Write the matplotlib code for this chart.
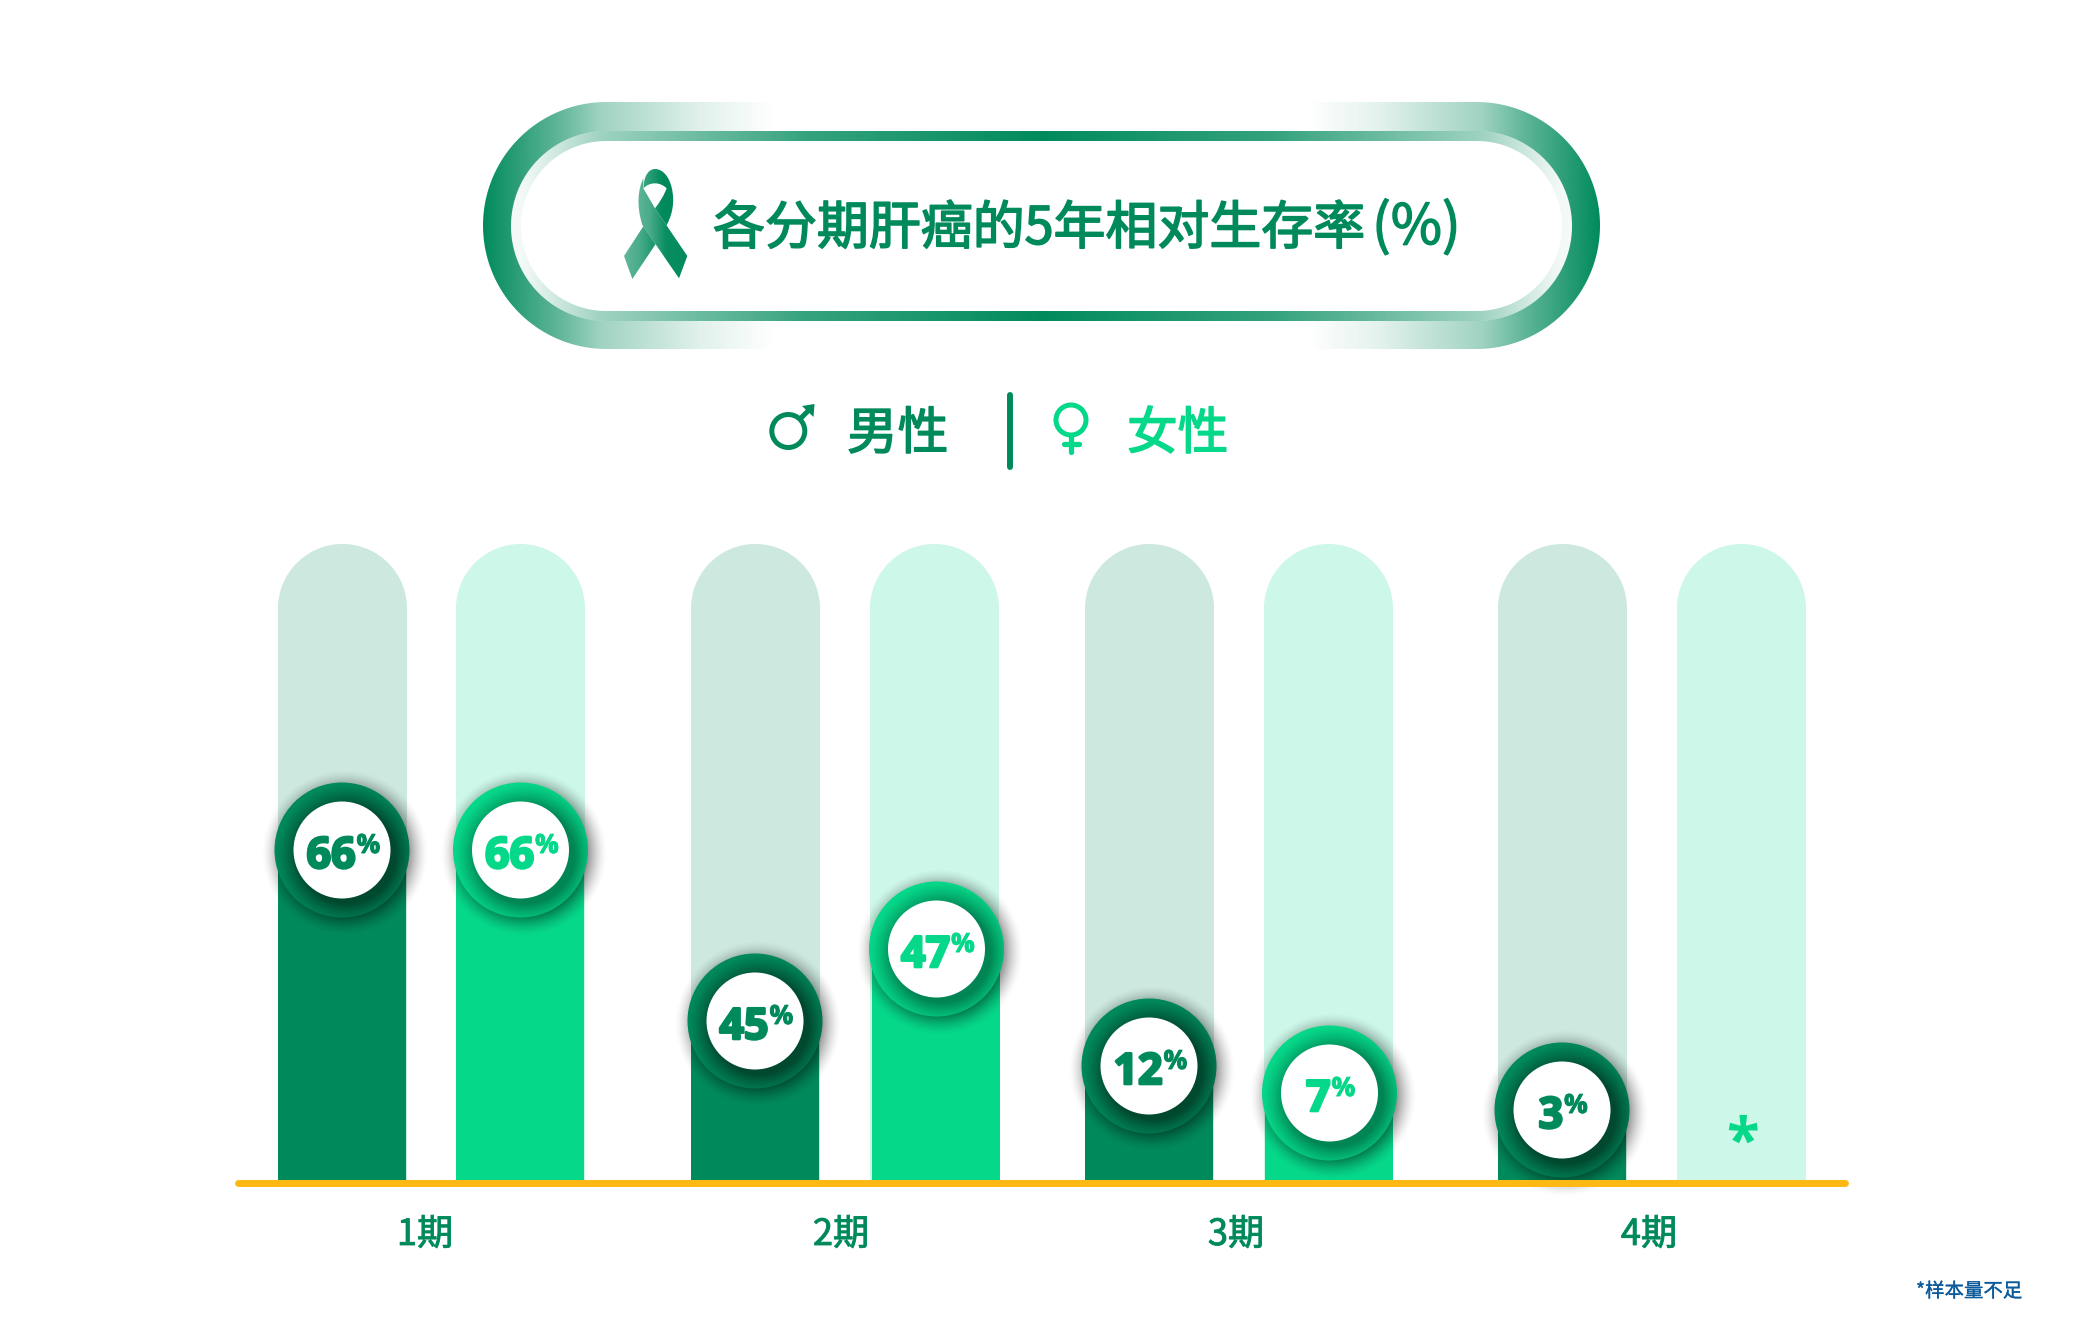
import numpy as np
import matplotlib
matplotlib.use('Agg')
import matplotlib.pyplot as plt
from matplotlib.patches import Circle, PathPatch, Polygon
from matplotlib.path import Path
from matplotlib.colors import to_rgb
import matplotlib.patheffects as pe

# ---- data ----
title_main = '各分期肝癌的5年相对生存率'
title_unit = '(%)'
legend_labels = ['男性', '女性']
stages = ['1期', '2期', '3期', '4期']
male_pct = [66, 45, 12, 3]
female_pct = [66, 47, 7, None]
# drawn bar heights (pixels above the baseline)
male_height = [330, 159, 114, 70]
female_height = [330, 231, 87, None]
track_height = 636
footnote = '*样本量不足'

# ---- layout / style ----
W, H = 2084, 1334
BASE = 1180
DARK, LIGHT = '#008A5C', '#06D889'
DARK_S, LIGHT_S = '#00492F', '#008554'
TRACK_D, TRACK_L = '#CCE8DF', '#CDF7E8'
YELLOW = '#FDB913'
BAR_W = 128
male_x = [278, 691, 1085, 1498]
female_track_x = [456, 870, 1264, 1677]
female_x = [456, 872, 1265, 1677]
stage_x = [425, 841, 1236, 1649]
CJK = ['Noto Sans CJK SC', 'DejaVu Sans']
NUM = ['Open Sans', 'DejaVu Sans']

fig = plt.figure(figsize=(W / 100, H / 100), dpi=100, facecolor='white')
ax = fig.add_axes([0, 0, 1, 1])
ax.axis('off')


def Y(py):
    return BASE - py


def heavier(color, width):
    return [pe.withStroke(linewidth=width, foreground=color)]


def gradient(xs, alphas, color, extent, clip, z):
    """horizontal gradient of a colour's alpha, clipped to a patch"""
    x = np.linspace(extent[0], extent[1], 1400)
    a = np.interp(x, xs, alphas)
    img = np.ones((1, x.size, 4))
    img[..., :3] = to_rgb(color)
    img[..., 3] = a
    im = ax.imshow(img, extent=extent, aspect='auto', zorder=z, interpolation='bilinear')
    im.set_clip_path(clip)


def stadium(x0, x1, top, bot, **kw):
    r = (bot - top) / 2
    cy = Y((top + bot) / 2)
    t = np.linspace(-np.pi / 2, np.pi / 2, 120)
    xs = np.r_[x1 - r + r * np.cos(t), x0 + r - r * np.cos(t)]
    ys = np.r_[cy + r * np.sin(t), cy + r * np.sin(t)[::-1]]
    p = Polygon(np.c_[xs, ys], closed=True, lw=0, **kw)
    ax.add_patch(p)
    return p


# ---- banner ----
outer = stadium(483, 1600, 102, 349, fc='none')
xc = 1041.5
l_x = np.array([483, 560, 600, 700, 775])
l_a = [1, .62, .38, .12, 0]
gradient(list(l_x) + list(2 * xc - l_x[::-1]), l_a + l_a[::-1], DARK,
         [483, 1600, Y(349), Y(102)], outer, 2)
stadium(511, 1572, 131, 321, fc='white', zorder=3)
band2 = stadium(511, 1572, 131, 321, fc='none')
b_x = np.array([511, 525, 600, 810, xc])
b_a = [.04, .06, .38, .8, 1]
gradient(list(b_x[:-1]) + [xc] + list(2 * xc - b_x[:-1][::-1]), b_a + b_a[:-1][::-1], DARK,
         [511, 1572, Y(321), Y(131)], band2, 4)
stadium(521, 1562, 141, 311, fc='white', zorder=5)


# ribbon (coordinates in a 110x135 box starting at 610,155, scaled by 1/3)
def rib(pts, codes):
    v = [(610 + a / 3, Y(155 + b / 3)) for a, b in pts]
    return PathPatch(Path(v, codes), fc='none', lw=0)


M, L, C, Z = Path.MOVETO, Path.LINETO, Path.CURVE4, Path.CLOSEPOLY
p1 = rib([(42, 303), (67, 372), (135, 270), (170, 210),
          (195, 165), (192, 120), (183, 90), (172, 55), (152, 42), (135, 42),
          (118, 42), (102, 58), (100, 100), (120, 80), (150, 80), (170, 100),
          (160, 125), (150, 140), (135, 160), (42, 303), (42, 303)],
         [M, L, L, L, C, C, C, C, C, C, C, C, C, C, C, C, C, C, L, L, Z])
pts2 = [(100, 70), (85, 100), (78, 150), (97, 210), (207, 370), (232, 303), (135, 160),
        (100, 100), (100, 70), (100, 70)]
codes2 = [M, C, C, C, L, L, L, L, L, Z]
p2 = rib(pts2, codes2)
ax.add_patch(p1)
ax.add_patch(p2)
gradient([624, 640, 662, 690], [.62, .72, 1, 1], DARK, [620, 692, Y(285), Y(165)], p1, 6)
ax.add_patch(PathPatch(p2.get_path(), fc='white', lw=0, zorder=6.5))
p2b = rib(pts2, codes2)
ax.add_patch(p2b)
gradient([636, 650, 666, 690], [.62, .72, .97, 1], DARK, [620, 692, Y(285), Y(165)], p2b, 7)

ax.text(713, Y(244), title_main, family=CJK, fontsize=37.4, color=DARK,
        va='baseline', ha='left', zorder=8, path_effects=heavier(DARK, 1.2))
ax.text(1372, Y(244), title_unit, family=CJK, fontsize=40, color=DARK,
        va='baseline', ha='left', zorder=8, path_effects=heavier(DARK, 1.0))

# ---- legend ----
ax.add_patch(Circle((788.3, Y(431)), 16.5, fc='none', ec=DARK, lw=3.6))
ax.plot([800, 812], [Y(419), Y(407)], color=DARK, lw=3.6, solid_capstyle='butt')
ax.add_patch(Polygon([(802, Y(406)), (814.5, Y(404)), (813.5, Y(417))], fc=DARK, lw=0))
ax.text(847, Y(449), legend_labels[0], family=CJK, fontsize=36.5, color=DARK, va='baseline',
        path_effects=heavier(DARK, 1.1))
ax.plot([1010, 1010], [Y(395), Y(467)], color=DARK, lw=4.3, solid_capstyle='round')
ax.add_patch(Circle((1071, Y(420)), 15, fc='none', ec=LIGHT, lw=3.6))
ax.plot([1071, 1071], [Y(436), Y(452)], color=LIGHT, lw=3.8, solid_capstyle='round')
ax.plot([1064, 1079], [Y(444), Y(444)], color=LIGHT, lw=3.8, solid_capstyle='round')
ax.text(1127, Y(449), legend_labels[1], family=CJK, fontsize=36.5, color=LIGHT, va='baseline',
        path_effects=heavier(LIGHT, 1.1))


# ---- chart ----
def track(x, color):
    r = (BAR_W + 1) / 2
    t = np.linspace(np.pi, 0, 80)
    xs = np.r_[x, x + r + r * np.cos(t), x + 2 * r]
    ys = np.r_[0, track_height - r + r * np.sin(t), 0]
    ax.fill(xs, ys, color=color, lw=0, zorder=2)


def badge(cx, level, base, shade, label):
    cy = level
    R, r = 67.5, 48.5
    # cast shadow
    s = 100
    g = np.linspace(-s, s, 401)
    xx, yy = np.meshgrid(g, g)
    d = np.hypot(xx - 3, yy + 3)
    t = np.clip((d - 58) / 26, 0, 1)
    img = np.zeros(xx.shape + (4,))
    img[..., 3] = .62 * (1 - t) ** 1.6
    ax.imshow(img, extent=[cx - s, cx + s, cy - s, cy + s], origin='lower', aspect='auto', zorder=4)
    # ring with inner shading
    d = np.hypot(xx - 5, yy + 5)
    t = np.clip((d - r) / 24, 0, 1)[..., None]
    w = (1 - t) ** 1.3
    rgb = np.array(to_rgb(base)) * (1 - w) + np.array(to_rgb(shade)) * w
    img = np.concatenate([rgb, np.ones(t.shape)], axis=2)
    im = ax.imshow(img, extent=[cx - s, cx + s, cy - s, cy + s], origin='lower', aspect='auto', zorder=5)
    clip = Circle((cx, cy), R, fc='none', lw=0)
    ax.add_patch(clip)
    im.set_clip_path(clip)
    ax.add_patch(Circle((cx, cy), r, fc='white', lw=0, zorder=6))
    digits = str(label)
    off = 12.5 * (len(digits) - 1) + 1
    ax.text(cx + off, cy - 18, digits, family=NUM, weight='bold', fontsize=31, color=base,
            ha='right', va='baseline', zorder=7, path_effects=heavier(base, 1.9))
    ax.text(cx + off + 1, cy - 3, '%', family=NUM, weight='bold', fontsize=19, color=base,
            ha='left', va='baseline', zorder=7, path_effects=heavier(base, 0.7))


for i in range(len(stages)):
    track(male_x[i], TRACK_D)
    track(female_track_x[i], TRACK_L)
    ax.bar(male_x[i], male_height[i], BAR_W, align='edge', color=DARK, lw=0, zorder=3)
    badge(male_x[i] + BAR_W / 2, male_height[i], DARK, DARK_S, male_pct[i])
    if female_pct[i] is not None:
        ax.bar(female_x[i], female_height[i], BAR_W, align='edge', color=LIGHT, lw=0, zorder=3)
        badge(female_x[i] + BAR_W / 2 + 0.5, female_height[i], LIGHT, LIGHT_S, female_pct[i])
    else:
        ax.text(female_track_x[i] + BAR_W / 2 + 1, Y(1161), '*', family=NUM, weight='bold', fontsize=43,
                color=LIGHT, ha='center', va='baseline', zorder=7)
    ax.text(stage_x[i], Y(1245), stages[i], family=CJK, fontsize=26, color=DARK,
            ha='center', va='baseline', zorder=7, path_effects=heavier(DARK, 0.6))

ax.plot([238, 1845], [Y(1183), Y(1183)], color=YELLOW, lw=5, solid_capstyle='round', zorder=8)
ax.text(1916, Y(1297), footnote, family=CJK, fontsize=14, color='#0A5A9C', va='baseline', ha='left',
        path_effects=heavier('#0A5A9C', 0.2))

ax.set_xlim(0, W)
ax.set_ylim(BASE - H, BASE)
fig.savefig('out.png', dpi=100, facecolor='white')
